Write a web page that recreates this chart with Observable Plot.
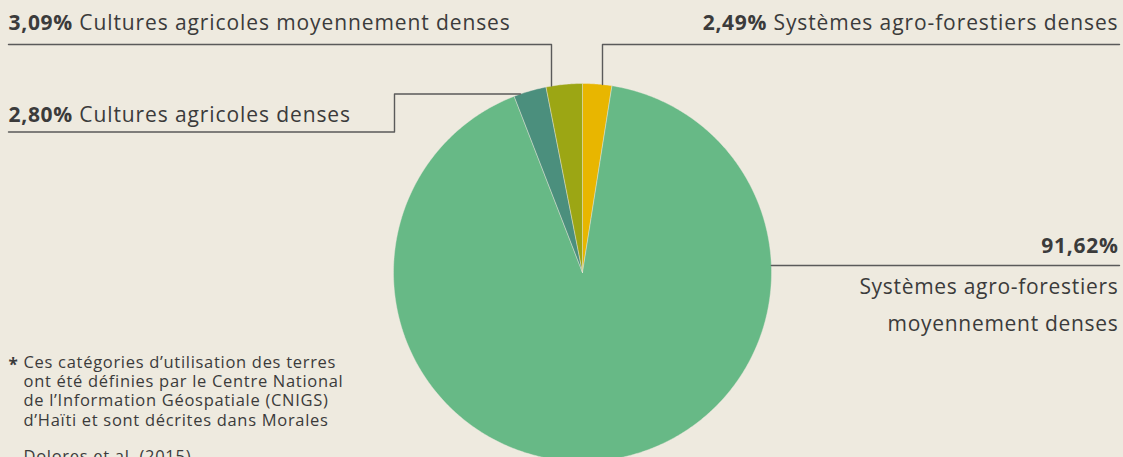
<!DOCTYPE html>
<html>
<head>
<meta charset="utf-8">
<script src="https://cdn.jsdelivr.net/npm/d3@7"></script>
<script src="https://cdn.jsdelivr.net/npm/@observablehq/plot@0.6"></script>
<style>
  html, body { margin: 0; padding: 0; background: #EEEADF; }
  #chart svg { display: block; }
</style>
</head>
<body>
<div id="chart"></div>
<script>
// ---- data ----
const categories = [
  "Systèmes agro-forestiers denses",
  "Systèmes agro-forestiers moyennement denses",
  "Cultures agricoles denses",
  "Cultures agricoles moyennement denses"
];
const shares = [2.49, 91.62, 2.80, 3.09];
const shareLabels = ["2,49%", "91,62%", "2,80%", "3,09%"];
const sliceColors = ["#E8B600", "#67B986", "#4B8F7D", "#9CA614"];
const footnoteLines = [
  "Ces catégories d’utilisation des terres",
  "ont été définies par le Centre National",
  "de l’Information Géospatiale (CNIGS)",
  "d’Haïti et sont décrites dans Morales",
  "Dolores et al. (2015)."
];

// ---- layout ----
const W = 1123, H = 457;
const cx = 582, cy = 272, R = 189;
const X = px => (px - cx) / R;
const Y = py => (cy - py) / R;
const edgeYatX = px => { const u = X(px); return Math.sqrt(1 - u * u); };
const edgeXatY = (py, side) => { const v = Y(py); return side * Math.sqrt(1 - v * v); };

// pie geometry from the data
const arcs = d3.pie().sort(null).value(d => d)(shares);
const piePts = [];
arcs.forEach((a, i) => {
  const n = Math.max(2, Math.ceil((a.endAngle - a.startAngle) / (Math.PI / 360)));
  piePts.push({k: i, x: 0, y: 0});
  for (let j = 0; j <= n; j++) {
    const t = a.startAngle + (a.endAngle - a.startAngle) * j / n;
    piePts.push({k: i, x: Math.sin(t), y: Math.cos(t)});
  }
  piePts.push({k: i, x: 0, y: 0});
});

// leaders (index into categories)
const leaders = [
  {k: 3, pts: [[X(8), Y(44)], [X(551), Y(44)], [X(551), edgeYatX(551)]]},
  {k: 0, pts: [[X(1119), Y(44)], [X(602), Y(44)], [X(602), edgeYatX(602)]]},
  {k: 2, pts: [[X(8), Y(131.5)], [X(394), Y(131.5)], [X(394), Y(93.5)], [edgeXatY(93.5, -1), Y(93.5)]]},
  {k: 1, pts: [[X(1119), Y(265)], [edgeXatY(265, 1), Y(265)]]}
];
const leaderPts = leaders.flatMap(l => l.pts.map(([x, y]) => ({k: l.k, x, y})));

const labelsStart = [
  {text: shareLabels[3] + " " + categories[3], x: X(8), y: Y(29.5)},
  {text: shareLabels[2] + " " + categories[2], x: X(8), y: Y(121)}
];
const labelsEnd = [
  {text: shareLabels[0] + " " + categories[0], x: X(1118), y: Y(29.5)},
  {text: shareLabels[1], x: X(1118), y: Y(252)}
];
const rightText = [{text: "Systèmes agro-forestiers\nmoyennement denses", x: X(1118), y: Y(330)}];

const FONT = "'Open Sans', sans-serif";
const TXT = "#3b3b3b";

const chart = Plot.plot({
  width: W, height: H, margin: 0,
  x: {domain: [X(0), X(W)], axis: null},
  y: {domain: [Y(H), Y(0)], axis: null},
  color: {domain: categories, range: sliceColors},
  style: {background: "#EEEADF", fontFamily: FONT},
  marks: [
    Plot.line(piePts, {x: "x", y: "y", z: "k", fill: d => categories[d.k], stroke: "#EEEADF", strokeWidth: 0.6, strokeOpacity: 0.7, curve: "linear"}),
    Plot.line(leaderPts, {x: "x", y: "y", z: "k", stroke: "#5a5a5a", strokeWidth: 1.4, curve: "linear"}),
    Plot.text(labelsStart, {x: "x", y: "y", text: "text", textAnchor: "start", lineAnchor: "bottom", fontSize: 21, fill: TXT, fontFamily: FONT}),
    Plot.text(labelsEnd, {x: "x", y: "y", text: "text", textAnchor: "end", lineAnchor: "bottom", fontSize: 21, fill: TXT, fontFamily: FONT}),
    Plot.text(rightText, {x: "x", y: "y", text: "text", textAnchor: "end", lineAnchor: "bottom", lineHeight: 1.72, fontSize: 21, fill: TXT, fontFamily: FONT}),
    Plot.text([{t: "*"}], {x: X(8), y: Y(370), text: "t", textAnchor: "start", lineAnchor: "bottom", fontSize: 17, fontWeight: "bold", fill: TXT, fontFamily: FONT}),
    Plot.text([{t: footnoteLines.slice(0, 4).join("\n")}], {x: X(23), y: Y(425), text: "t", textAnchor: "start", lineAnchor: "bottom", lineHeight: 1.165, fontSize: 16.5, fill: TXT, fontFamily: FONT}),
    Plot.text([{t: footnoteLines[4]}], {x: X(23), y: Y(461), text: "t", textAnchor: "start", lineAnchor: "bottom", fontSize: 16.5, fill: TXT, fontFamily: FONT})
  ]
});

// bold the percentage part of the labels; letter spacing to match the reference widths
d3.select(chart).selectAll("text").each(function () {
  const s = this.textContent;
  this.setAttribute("letter-spacing", "0.7px");
  const m = s.match(/^(\d+,\d+%)(.*)$/);
  if (m && this.childElementCount === 0) {
    this.textContent = "";
    const b = document.createElementNS("http://www.w3.org/2000/svg", "tspan");
    b.setAttribute("font-weight", "bold");
    b.textContent = m[1];
    this.appendChild(b);
    if (m[2]) {
      const r = document.createElementNS("http://www.w3.org/2000/svg", "tspan");
      r.setAttribute("letter-spacing", "0.9px");
      r.textContent = m[2];
      this.appendChild(r);
    }
  }
});

document.getElementById("chart").appendChild(chart);
</script>
</body>
</html>
